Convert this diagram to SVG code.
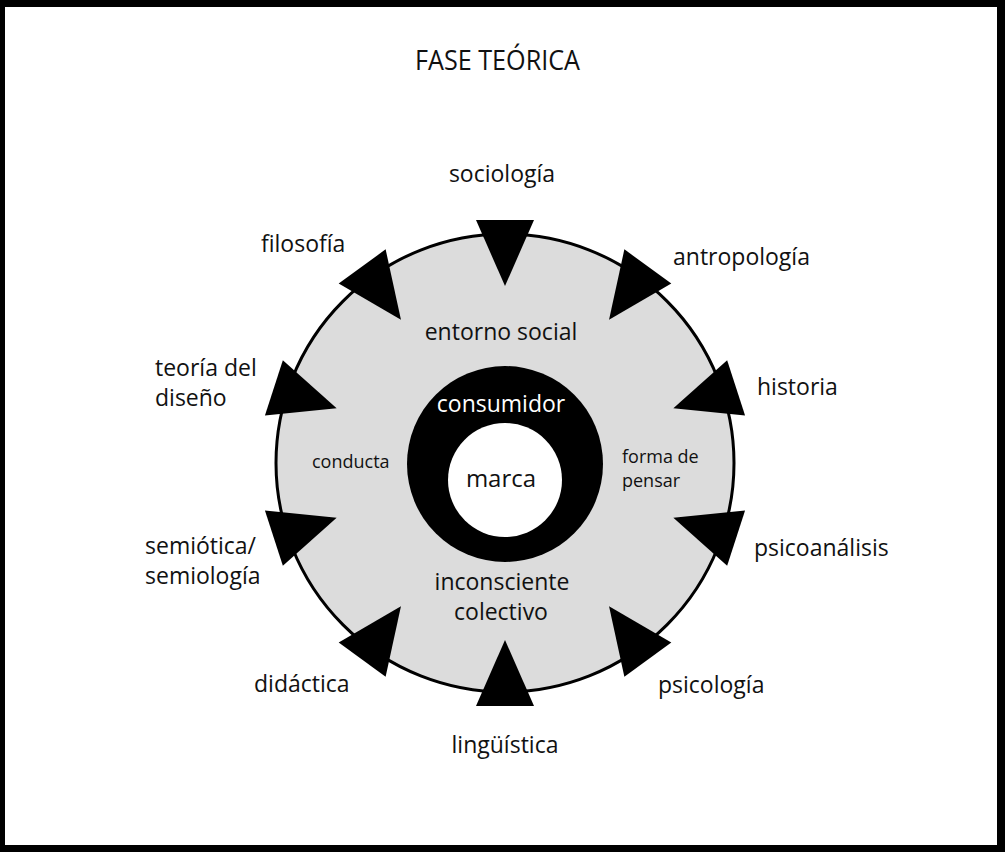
<svg xmlns="http://www.w3.org/2000/svg" width="1005" height="852" viewBox="0 0 1005 852">
<style>
  text { font-family: "Open Sans", "Liberation Sans", sans-serif; fill: #111; }
  .lbl { font-size: 23px; }
  .sm { font-size: 18px; }
  .tri { fill: #000; }
</style>
<defs>
  <polygon id="arrow" class="tri" points="476,220 534,220 505,286"/>
</defs>
<rect x="0" y="0" width="1005" height="852" fill="#000"/>
<rect x="5" y="7" width="992" height="838" fill="#fff"/>
<g id="title">
  <text x="415" y="70" font-size="28" textLength="165" lengthAdjust="spacingAndGlyphs">FASE TEÓRICA</text>
</g>
<g id="hub">
  <circle cx="505" cy="463" r="229" fill="#dcdcdc" stroke="#000" stroke-width="3"/>
  <circle cx="505" cy="464" r="98" fill="#000"/>
  <circle cx="505" cy="480" r="57" fill="#fff"/>
  <text class="lbl" x="501" y="412" text-anchor="middle" style="fill:#fff">consumidor</text>
  <text x="501" y="487" text-anchor="middle" font-size="24">marca</text>
  <text class="lbl" x="501" y="340" text-anchor="middle">entorno social</text>
  <text class="sm" x="312" y="468">conducta</text>
  <text class="sm" x="622" y="463">forma de</text>
  <text class="sm" x="622" y="487">pensar</text>
  <text class="lbl" x="502" y="590" text-anchor="middle">inconsciente</text>
  <text class="lbl" x="501" y="620" text-anchor="middle">colectivo</text>
</g>
<g id="connectors">
  <use href="#arrow" transform="rotate(0 505 463)"/>
  <use href="#arrow" transform="rotate(36 505 463)"/>
  <use href="#arrow" transform="rotate(72 505 463)"/>
  <use href="#arrow" transform="rotate(108 505 463)"/>
  <use href="#arrow" transform="rotate(144 505 463)"/>
  <use href="#arrow" transform="rotate(180 505 463)"/>
  <use href="#arrow" transform="rotate(216 505 463)"/>
  <use href="#arrow" transform="rotate(252 505 463)"/>
  <use href="#arrow" transform="rotate(288 505 463)"/>
  <use href="#arrow" transform="rotate(324 505 463)"/>
</g>
<g id="n-sociologia"><text class="lbl" x="502" y="182" text-anchor="middle">sociología</text></g>
<g id="n-antropologia"><text class="lbl" x="673" y="265">antropología</text></g>
<g id="n-historia"><text class="lbl" x="757" y="395">historia</text></g>
<g id="n-psicoanalisis"><text class="lbl" x="754" y="556">psicoanálisis</text></g>
<g id="n-psicologia"><text class="lbl" x="658" y="693">psicología</text></g>
<g id="n-linguistica"><text class="lbl" x="505" y="753" text-anchor="middle">lingüística</text></g>
<g id="n-didactica"><text class="lbl" x="254" y="692">didáctica</text></g>
<g id="n-semiotica"><text class="lbl" x="145" y="554">semiótica/</text><text class="lbl" x="145" y="584">semiología</text></g>
<g id="n-teoria"><text class="lbl" x="155" y="376">teoría del</text><text class="lbl" x="155" y="406">diseño</text></g>
<g id="n-filosofia"><text class="lbl" x="261" y="252">filosofía</text></g>
</svg>
